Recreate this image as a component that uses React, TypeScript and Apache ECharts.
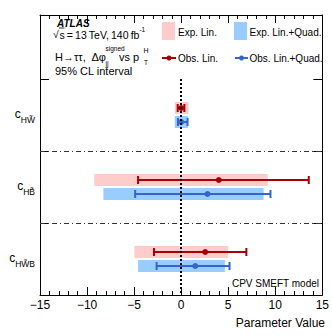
import React, { useEffect, useRef } from 'react';
import * as echarts from 'echarts';

// ---- Data ----
const catLabels = ['HW\u0303', 'HB\u0303', 'HW\u0303B'];
const expLinLow = [-0.68, -9.24, -4.97];
const expLinHigh = [0.79, 9.21, 5.0];
const expLQLow = [-0.68, -8.26, -4.58];
const expLQHigh = [0.72, 8.76, 4.65];
const obsLinVal = [0.0, 4.0, 2.55];
const obsLinLow = [-0.37, -4.58, -2.89];
const obsLinHigh = [0.34, 13.56, 6.93];
const obsLQVal = [0.0, 2.8, 1.5];
const obsLQLow = [-0.34, -4.89, -2.61];
const obsLQHigh = [0.68, 9.49, 5.14];
const xMin = -15;
const xMax = 15;
const xInterval = 5;
const separators = [1, 2];

const FONT = '"Liberation Sans", Arial, Helvetica, sans-serif';
const RED = '#a80000';
const BLUE = '#3366cc';
const PINK = '#ffcccc';
const LBLUE = '#99ccff';

const boxSeries = (name: string, low: number[], high: number[], color: string, offset: number, z: number) => ({
  type: 'custom',
  name,
  z,
  data: low.map((l, i) => [l, high[i], i]),
  encode: { x: [0, 1], y: 2 },
  renderItem: (params: any, api: any) => {
    const yc = api.value(2) + 0.5;
    const a = api.coord([api.value(0), yc]);
    const b = api.coord([api.value(1), yc]);
    return {
      type: 'rect',
      shape: { x: a[0], y: a[1] + offset - 6, width: b[0] - a[0], height: 12 },
      style: { fill: color },
    };
  },
});

const errSeries = (name: string, val: number[], low: number[], high: number[], color: string, offset: number, z: number) => ({
  type: 'custom',
  name,
  z,
  data: val.map((v, i) => [v, low[i], high[i], i]),
  encode: { x: [0, 1, 2], y: 3 },
  renderItem: (params: any, api: any) => {
    const yc = api.value(3) + 0.5;
    const p = api.coord([api.value(0), yc]);
    const l = api.coord([api.value(1), yc]);
    const h = api.coord([api.value(2), yc]);
    const y = p[1] + offset;
    const st = { stroke: color, lineWidth: 2 };
    return {
      type: 'group',
      children: [
        { type: 'line', shape: { x1: l[0], y1: y, x2: h[0], y2: y }, style: st },
        { type: 'line', shape: { x1: l[0], y1: y - 4, x2: l[0], y2: y + 4 }, style: st },
        { type: 'line', shape: { x1: h[0], y1: y - 4, x2: h[0], y2: y + 4 }, style: st },
        { type: 'circle', shape: { cx: p[0], cy: y, r: 3 }, style: { fill: color } },
      ],
    };
  },
});

const xAxisBase = (position: string, showLabel: boolean) => ({
  type: 'value',
  min: xMin,
  max: xMax,
  interval: xInterval,
  position,
  axisLine: { show: true, onZero: false, lineStyle: { color: '#000', width: 1 } },
  axisTick: { show: true, inside: true, length: 8, lineStyle: { color: '#000' } },
  minorTick: { show: true, splitNumber: 5, length: 4, lineStyle: { color: '#000' } },
  splitLine: { show: false },
  minorSplitLine: { show: false },
  axisLabel: {
    show: showLabel,
    fontSize: 12,
    color: '#000',
    margin: 4,
    fontFamily: FONT,
    formatter: (v: number) => (v < 0 ? '\u2212' + Math.abs(v) : String(v)),
  },
});

const yAxisBase = (position: string, showLabel: boolean) => ({
  type: 'value',
  inverse: true,
  min: -0.889,
  max: 3,
  position,
  axisLine: { show: true, onZero: false, lineStyle: { color: '#000', width: 1 } },
  axisTick: { show: true, inside: true, length: 9, customValues: [0, 1, 2], lineStyle: { color: '#000' } },
  splitLine: { show: false },
  axisLabel: {
    show: showLabel,
    customValues: [0.5, 1.5, 2.5],
    margin: 5,
    formatter: (v: number) => {
      const i = Math.round(v - 0.5);
      return '{c|c}{s|' + catLabels[i] + '}';
    },
    rich: {
      c: { fontSize: 12, fontFamily: FONT, color: '#000', lineHeight: 12, padding: [2, 0, 5, 0] },
      s: { fontSize: 8.5, fontFamily: FONT, color: '#000', lineHeight: 9, padding: [10, 0, 0, 0] },
    },
  },
});

const txt = (text: string, x: number, y: number, size: number, extra: any = {}) => ({
  type: 'text',
  x,
  y,
  silent: true,
  style: { text, fontSize: size, fontFamily: FONT, fill: '#000', verticalAlign: 'middle', align: 'left', ...extra },
});

export default function App() {
  const ref = useRef<HTMLDivElement>(null);
  useEffect(() => {
    if (!ref.current) return;
    const chart = echarts.init(ref.current, null, { renderer: 'svg' });
    const option: any = {
      animation: false,
      backgroundColor: '#fff',
      textStyle: { fontFamily: FONT },
      grid: { left: 40, right: 7, top: 15, bottom: 41, containLabel: false },
      xAxis: [xAxisBase('bottom', true), xAxisBase('top', false)],
      yAxis: [yAxisBase('left', true), yAxisBase('right', false)],
      series: [
        {
          type: 'line',
          name: 'guides',
          z: 1,
          data: [],
          markLine: {
            silent: true,
            symbol: ['none', 'none'],
            label: { show: false },
            animation: false,
            data: [
              ...separators.map((s) => ({ yAxis: s, lineStyle: { color: '#333', width: 1, type: [5, 3, 1, 3] } })),
              [
                { coord: [0, 0], lineStyle: { color: '#000', width: 2, type: [2, 2] } },
                { coord: [0, 3] },
              ],
            ],
          },
        },
        boxSeries('Exp. Lin.', expLinLow, expLinHigh, PINK, -7, 2),
        boxSeries('Exp. Lin.+Quad.', expLQLow, expLQHigh, LBLUE, 7, 2),
        errSeries('Obs. Lin.', obsLinVal, obsLinLow, obsLinHigh, RED, -7, 3),
        errSeries('Obs. Lin.+Quad.', obsLQVal, obsLQLow, obsLQHigh, BLUE, 7, 3),
      ],
      graphic: [
        txt('ATLAS', 57, 23, 10, { fontWeight: 'bold', fontStyle: 'italic' }),
        txt('\u221A', 53, 33.5, 10.5),
        { type: 'line', shape: { x1: 59, y1: 28, x2: 64.5, y2: 28 }, style: { stroke: '#000', lineWidth: 0.8 }, silent: true },
        {
          type: 'text',
          x: 59.5,
          y: 33,
          silent: true,
          style: {
            text: '{n|s\u2009=\u200913\u2009TeV,\u2009140\u2009fb}{u|-1}',
            verticalAlign: 'middle',
            rich: {
              n: { fontSize: 10.5, fontFamily: FONT, fill: '#000', lineHeight: 11, padding: [4, 0, 0, 0] },
              u: { fontSize: 6.5, fontFamily: FONT, fill: '#000', lineHeight: 7, padding: [0, 0, 8, 0] },
            },
          },
        },
        txt('H\u2192\u03C4\u03C4,', 55, 57, 11),
        txt('\u0394\u03C6', 91.5, 57, 11),
        txt('signed', 105.5, 48.5, 6.5),
        txt('jj', 105.5, 63, 7),
        txt('vs p', 119, 57, 11),
        txt('H', 143.5, 50.5, 7),
        txt('T', 144, 62.5, 6.5),
        txt('95% CL interval', 55, 71, 11),
        // legend
        { type: 'rect', shape: { x: 162, y: 22, width: 13, height: 18 }, style: { fill: PINK }, silent: true },
        txt('Exp. Lin.', 178, 32, 10),
        { type: 'rect', shape: { x: 234, y: 22, width: 13, height: 18 }, style: { fill: LBLUE }, silent: true },
        txt('Exp. Lin.+Quad.', 249.5, 32, 10),
        { type: 'line', shape: { x1: 162, y1: 58, x2: 176, y2: 58 }, style: { stroke: RED, lineWidth: 2 }, silent: true },
        { type: 'circle', shape: { cx: 169, cy: 58, r: 2.5 }, style: { fill: RED }, silent: true },
        txt('Obs. Lin.', 178, 58, 10),
        { type: 'line', shape: { x1: 235, y1: 58, x2: 248, y2: 58 }, style: { stroke: BLUE, lineWidth: 2 }, silent: true },
        { type: 'circle', shape: { cx: 241.5, cy: 58, r: 2.5 }, style: { fill: BLUE }, silent: true },
        txt('Obs. Lin.+Quad.', 249.5, 58, 10),
        txt('CPV SMEFT model', 319, 283, 10, { align: 'right' }),
        txt('Parameter Value', 325, 323, 12, { align: 'right' }),
      ],
    };
    chart.setOption(option);
    return () => chart.dispose();
  }, []);
  return <div ref={ref} style={{ position: 'absolute', left: 0, top: 0, width: 332, height: 336 }} />;
}
